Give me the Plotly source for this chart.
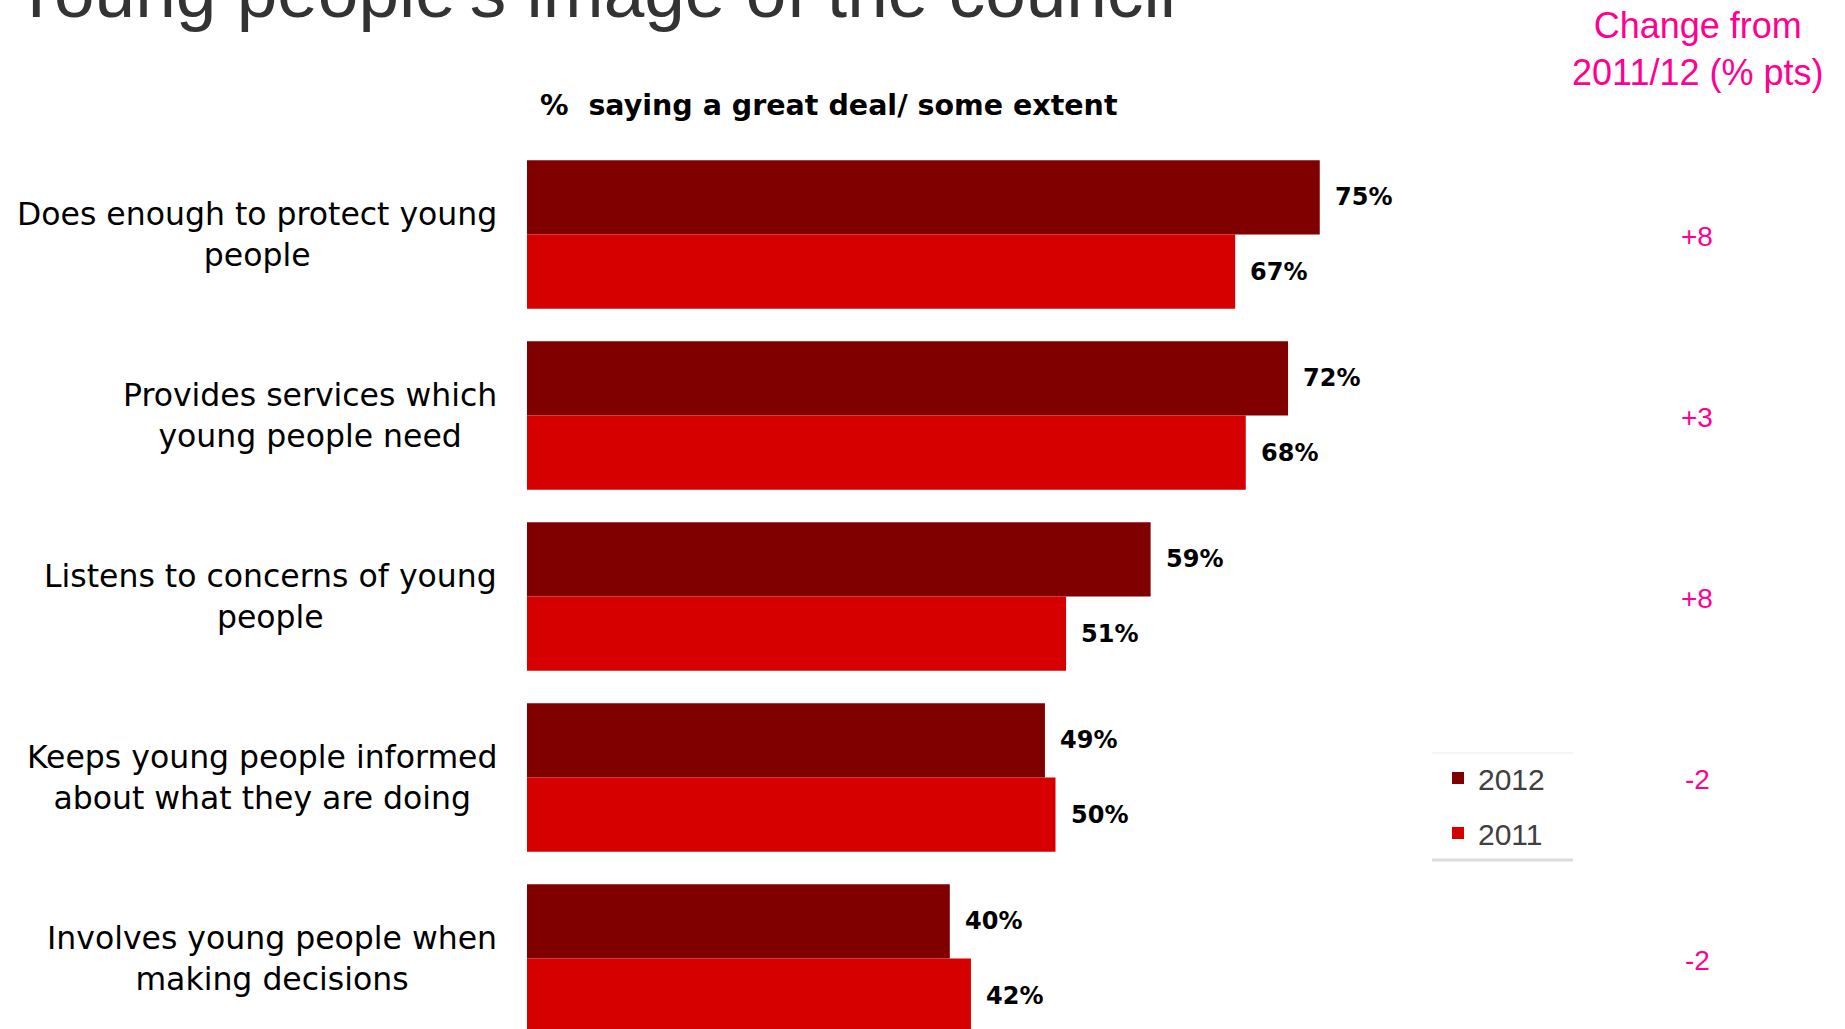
import plotly.graph_objects as go

# ---- data ----
categories = [
    "Does enough to protect young<br>people",
    "Provides services which<br>young people need",
    "Listens to concerns of young<br>people",
    "Keeps young people informed<br>about what they are doing",
    "Involves young people when<br>making decisions",
]
values_2012 = [75, 72, 59, 49, 40]
values_2011 = [67, 68, 51, 50, 42]
change_pts = [8, 3, 8, -2, -2]
series_names = ["2012", "2011"]

title_text = "Young people's image of the council"
subtitle_text = "%  saying a great deal/ some extent"
change_header = "Change from<br>2011/12 (% pts)"

# ---- styling / layout constants ----
W, H = 1845, 1029
ML, MR, MT, MB = 527, 0, 144, 0
PW, PH = W - ML - MR, H - MT - MB
PX_PER_UNIT = 10.57
BARW = 0.41
COL_2012 = "#800000"
COL_2011 = "#d70000"
PINK = "#ff0090"


def px_x(px):
    return (px - ML) / PW


def px_y(py):
    return (H - MB - py) / PH


idx = list(range(len(categories)))

fig = go.Figure()
fig.add_trace(go.Bar(
    y=idx, x=values_2012, orientation="h", name=series_names[0],
    width=BARW, offset=-BARW, marker=dict(color=COL_2012, line=dict(width=0)),
    legendgroup="a", hoverinfo="skip",
))
fig.add_trace(go.Bar(
    y=idx, x=values_2011, orientation="h", name=series_names[1],
    width=BARW, offset=0, marker=dict(color=COL_2011, line=dict(width=0)),
    legendgroup="b", hoverinfo="skip",
))

annotations = []
# value labels
for i, (a, b) in enumerate(zip(values_2012, values_2011)):
    for val, yy in ((a, i - BARW / 2), (b, i + BARW / 2)):
        annotations.append(dict(
            x=val, y=yy, xref="x", yref="y", text=f"<b>{val}%</b>", showarrow=False,
            xanchor="left", yanchor="middle", xshift=13,
            font=dict(family="DejaVu Sans", size=24, color="black"),
        ))
# category labels
for i, c in enumerate(categories):
    annotations.append(dict(
        x=px_x(499), y=i, xref="paper", yref="y", text=c, showarrow=False,
        xanchor="right", yanchor="middle", align="center",
        font=dict(family="DejaVu Sans", size=31.5, color="black"),
    ))
# change values
for i, ch in enumerate(change_pts):
    annotations.append(dict(
        x=px_x(1697), y=i, xref="paper", yref="y", yshift=-2,
        text=f"{ch:+d}", showarrow=False, xanchor="center", yanchor="middle",
        font=dict(family="Liberation Sans", size=28, color=PINK),
    ))
# change header
annotations.append(dict(
    x=px_x(1697), y=px_y(49), xref="paper", yref="paper", text=change_header,
    showarrow=False, xanchor="center", yanchor="middle", align="center",
    font=dict(family="Liberation Sans", size=36, color=PINK),
))
# subtitle
annotations.append(dict(
    x=px_x(538), y=px_y(105), xref="paper", yref="paper", text=f"<b>{subtitle_text}</b>",
    showarrow=False, xanchor="left", yanchor="middle",
    font=dict(family="DejaVu Sans", size=28.5, color="black"),
))
# title (cut off at top)
annotations.append(dict(
    x=px_x(10), y=px_y(34), xref="paper", yref="paper", text=title_text,
    showarrow=False, xanchor="left", yanchor="bottom",
    font=dict(family="Liberation Sans", size=73, color="#333333"),
))

shapes = [
    dict(type="line", xref="paper", yref="paper", x0=px_x(1432), x1=px_x(1573),
         y0=px_y(860), y1=px_y(860), line=dict(color="#dcdcdc", width=3)),
    dict(type="line", xref="paper", yref="paper", x0=px_x(1432), x1=px_x(1573),
         y0=px_y(753), y1=px_y(753), line=dict(color="#f6f6f6", width=2)),
]

fig.update_layout(
    width=W, height=H,
    margin=dict(l=ML, r=MR, t=MT, b=MB, autoexpand=False),
    paper_bgcolor="white", plot_bgcolor="white",
    barmode="overlay",
    xaxis=dict(range=[0, PW / PX_PER_UNIT], visible=False, fixedrange=True),
    yaxis=dict(range=[4.39, -0.5], visible=False, fixedrange=True),
    showlegend=True,
    legend=dict(
        x=px_x(1438), y=px_y(752), xanchor="left", yanchor="top",
        traceorder="grouped", tracegroupgap=13,
        font=dict(family="Liberation Sans", size=30, color="#404040"),
        bgcolor="rgba(0,0,0,0)", borderwidth=0,
    ),
    annotations=annotations,
    shapes=shapes,
)

fig.write_html(
    "out.html",
    config={"displayModeBar": False},
    post_script="document.body.style.margin='0';document.body.style.overflow='hidden';",
)
